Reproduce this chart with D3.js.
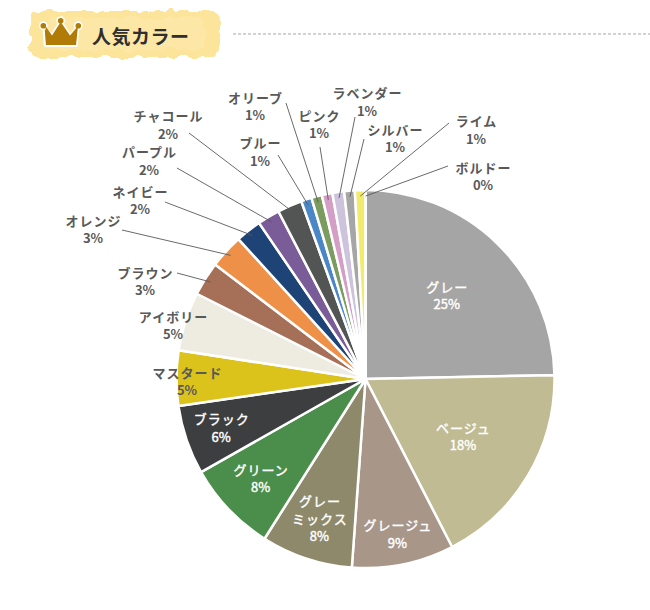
<!DOCTYPE html>
<html>
<head>
<meta charset="utf-8">
<script src="https://cdn.jsdelivr.net/npm/d3@7"></script>
<style>
  html, body { margin: 0; padding: 0; background: #fff; }
  svg { display: block; }
  text { font-family: "Noto Sans CJK JP", "Noto Sans", sans-serif; }
</style>
</head>
<body>
<svg id="chart" width="650" height="610"></svg>
<script>
// ---- data ----
const categories = ["グレー","ベージュ","グレージュ","グレーミックス","グリーン","ブラック","マスタード","アイボリー","ブラウン","オレンジ","ネイビー","パープル","チャコール","ブルー","オリーブ","ピンク","ラベンダー","シルバー","ライム","ボルドー"];
const values = [24.6, 17.7, 8.7, 7.8, 7.8, 5.9, 4.7, 5.0, 2.9, 2.9, 2.2, 1.9, 2.1, 0.9, 0.9, 0.9, 1.0, 0.9, 0.9, 0];
const colors = ["#a5a5a5","#c1bb94","#a89689","#8e896b","#4b8e4b","#3d3e40","#dcc31c","#eeebe1","#a66f57","#ee9047","#1e4477","#7a5c99","#535555","#4b86c7","#7b9b5f","#d49ec7","#cdc3dc","#a6a6a6","#f3eb6b","#7b2233"];
const title = "人気カラー";

// ---- label layout (annotation placement only) ----
const labelLayout = [
  {r: 0.614},
  {r: 0.60},
  {r: 0.84},
  {r: 0.78, breakAt: 3},
  {r: 0.766},
  {r: 0.807},
  {x: 187, y: 382},
  {x: 173, y: 326},
  {x: 145, y: 282, lx: 177, ly: 273},
  {x: 93,  y: 230, lx: 122, ly: 230},
  {x: 140, y: 201, lx: 165, ly: 202},
  {x: 149, y: 161.5, lx: 177, ly: 168},
  {x: 168, y: 125.5, lx: 189, ly: 133},
  {x: 260, y: 152.5, lx: 278, ly: 155},
  {x: 255, y: 107, lx: 286, ly: 103},
  {x: 319, y: 125, lx: 320, ly: 147},
  {x: 367, y: 102.5, lx: 355, ly: 117},
  {x: 395, y: 139, lx: 364, ly: 139},
  {x: 476, y: 130.5, lx: 449, ly: 123},
  {x: 483, y: 177, lx: 448, ly: 166}
];

const svg = d3.select("#chart");

// ---- header ----
const defs = svg.append("defs");
const f = defs.append("filter").attr("id","rough")
  .attr("x","-10%").attr("y","-30%").attr("width","120%").attr("height","160%");
f.append("feTurbulence").attr("type","fractalNoise").attr("baseFrequency","0.09")
  .attr("numOctaves",2).attr("seed",4).attr("result","n");
f.append("feDisplacementMap").attr("in","SourceGraphic").attr("in2","n")
  .attr("scale",9).attr("xChannelSelector","R").attr("yChannelSelector","G");

const header = svg.append("g");
header.append("rect").attr("x",30).attr("y",11).attr("width",190).attr("height",46)
  .attr("rx",8).attr("fill","#fde49b").attr("filter","url(#rough)");
header.append("rect").attr("x",44).attr("y",18).attr("width",162).attr("height",32)
  .attr("rx",10).attr("fill","#fee9ad").attr("opacity",0.7).attr("filter","url(#rough)");

// crown
const crown = header.append("g");
const crownPath = "M43.3,25.7 L51.7,35 L60.7,20.7 L70,35 L78.3,25.7 L76.7,46 L45,46 Z";
crown.append("path").attr("d", crownPath).attr("fill","#b07b06")
  .attr("stroke","#fff").attr("stroke-width",2.2).attr("stroke-linejoin","round");
[[43.3,25.7],[60.7,20.7],[78.3,25.7]].forEach(p => {
  crown.append("circle").attr("cx",p[0]).attr("cy",p[1]).attr("r",3.6)
    .attr("fill","#b07b06").attr("stroke","#fff").attr("stroke-width",1.6);
});
crown.append("path").attr("d", "M45.5,26 L52,35.5 L60.7,22 L70,35.5 L78,26 L76,45 L46,45 Z")
  .attr("fill","#b07b06");

header.append("text").attr("x",92).attr("y",44)
  .attr("font-size",19).attr("font-weight",700).attr("fill","#2f2f2f")
  .attr("letter-spacing","0.5").text(title);

svg.append("line").attr("x1",233).attr("x2",650).attr("y1",34).attr("y2",34)
  .attr("stroke","#c4c4c4").attr("stroke-width",1.6).attr("stroke-dasharray","3,2");

// ---- pie ----
const cx = 365.5, cy = 379, R = 189;
const g = svg.append("g").attr("transform", `translate(${cx},${cy})`);
const pie = d3.pie().sort(null).value(d => d.v);
const data = categories.map((c,i) => ({c, v: values[i], color: colors[i], lay: labelLayout[i]}));
const total = d3.sum(values);
const arcs = pie(data);
const arc = d3.arc().innerRadius(0).outerRadius(R);

g.selectAll("path.slice").data(arcs).join("path")
  .attr("class","slice")
  .attr("d", arc)
  .attr("fill", d => d.data.color)
  .attr("stroke","#fff").attr("stroke-width",2.5).attr("stroke-linejoin","round");

const pct = d => Math.round(d.data.v / total * 100) + "%";
const mid = d => (d.startAngle + d.endAngle) / 2;
const lineH = 17.5;

// leader lines
const outer = arcs.filter(d => d.data.lay.lx !== undefined);
g.selectAll("line.leader").data(outer).join("line")
  .attr("class","leader")
  .attr("x1", d => d.data.lay.lx - cx).attr("y1", d => d.data.lay.ly - cy)
  .attr("x2", d => Math.sin(mid(d)) * R * 0.968)
  .attr("y2", d => -Math.cos(mid(d)) * R * 0.968)
  .attr("stroke","#595959").attr("stroke-width",0.9);

// labels
arcs.forEach(d => {
  const lay = d.data.lay;
  let x, y, lines, fill, weight, inside = lay.r !== undefined;
  if (inside) {
    const a = mid(d);
    x = Math.sin(a) * R * lay.r;
    y = -Math.cos(a) * R * lay.r;
    fill = "#ffffff"; weight = 400;
  } else {
    x = lay.x - cx; y = lay.y - cy;
    fill = "#595959"; weight = 700;
  }
  if (lay.breakAt) lines = [d.data.c.slice(0, lay.breakAt), d.data.c.slice(lay.breakAt), pct(d)];
  else lines = [d.data.c, pct(d)];
  const t = g.append("text").attr("text-anchor","middle")
    .attr("font-size",13).attr("font-weight",weight).attr("fill",fill);
  if (inside) t.attr("stroke","#ffffff").attr("stroke-width",0.4);
  const n = lines.length;
  lines.forEach((s, k) => {
    t.append("tspan").attr("x", x + (k < n - 1 ? 0.5 : 0))
      .attr("y", y + (k - (n - 1) / 2) * lineH + 4.6)
      .attr("letter-spacing", k < n - 1 ? "1" : "0")
      .text(s);
  });
});
</script>
</body>
</html>
